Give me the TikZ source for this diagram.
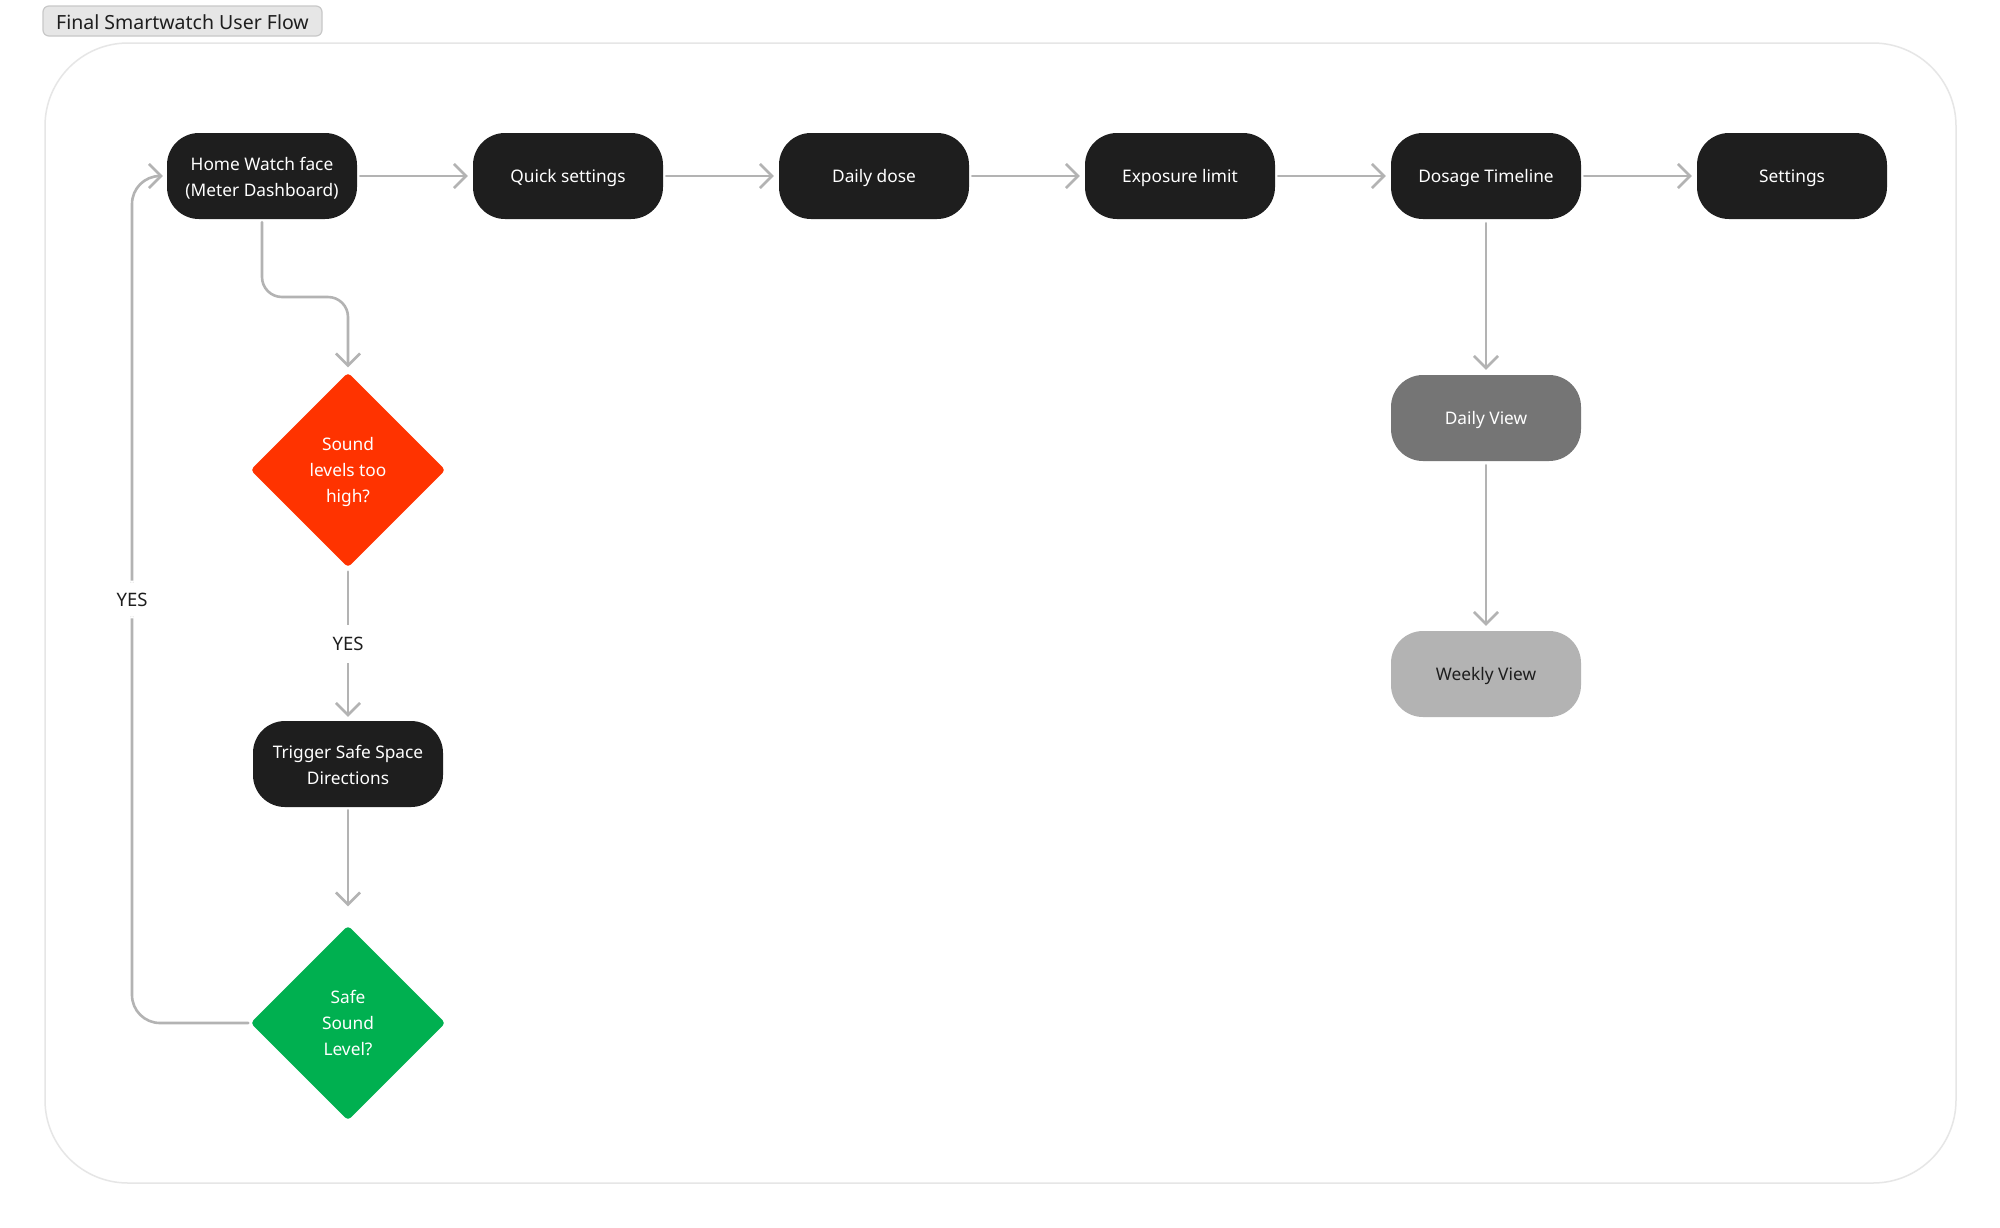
\documentclass[tikz,border=0pt]{standalone}
\usepackage{fontspec}
\setmainfont{Noto Sans}
\usetikzlibrary{arrows.meta,shapes.geometric}
\definecolor{boxdark}{HTML}{1E1E1E}
\definecolor{conn}{HTML}{B3B3B3}
\definecolor{alertred}{HTML}{FF3300}
\definecolor{okgreen}{HTML}{00B050}
\definecolor{midgray}{HTML}{757575}
\definecolor{lightgray}{HTML}{B3B3B3}
\definecolor{framegray}{HTML}{E6E6E6}
\definecolor{titlefill}{HTML}{E6E6E6}
\definecolor{titleline}{HTML}{C8C8C8}
\begin{document}
\begin{tikzpicture}[x=1pt,y=-1pt,
  pill/.style={rectangle, rounded corners=32pt, minimum width=190pt, minimum height=86pt,
    fill=boxdark, text=white, font=\fontsize{17.3}{26}\selectfont, align=center, inner sep=0pt,
    text height=14pt, text depth=0.5pt},
  twoline/.style={text height=40pt, text depth=0pt},
  dia/.style={diamond, minimum width=195pt, minimum height=195pt, inner sep=0pt,
    rounded corners=4pt, text=white, font=\fontsize{17.3}{26}\selectfont, align=center,
    text height=65pt, text depth=0pt},
  flow/.style={draw=conn, line width=2.6pt, line cap=round, line join=round,
    -{Straight Barb[length=12pt,width=24pt]}},
  lbl/.style={fill=white, text=boxdark, font=\fontsize{18.5}{22}\selectfont, inner xsep=4pt, inner ysep=12pt}
]
\fill[white] (0,0) rectangle (2000,1227);
\useasboundingbox (0,0) rectangle (2000,1227);

% title tab
\node[draw=titleline, fill=titlefill, line width=1.2pt, rounded corners=6pt,
  minimum width=279pt, minimum height=30pt, inner sep=0pt, text=boxdark,
  text height=16pt, text depth=0pt,
  font=\fontsize{19.5}{22}\selectfont] (title) at (182.5,21) {Final Smartwatch User Flow};

% frame
\draw[framegray, line width=1.5pt, rounded corners=83pt] (45,43) rectangle (1956,1183);

% top row
\node[pill, twoline] (home) at (262,176) {Home Watch face\\(Meter Dashboard)};
\node[pill] (quick) at (568,176) {Quick settings};
\node[pill] (dose) at (874,176) {Daily dose};
\node[pill] (expo) at (1180,176) {Exposure limit};
\node[pill] (timeline) at (1486,176) {Dosage Timeline};
\node[pill] (settings) at (1792,176) {Settings};

% right column
\node[pill, fill=midgray] (dailyview) at (1486,418) {Daily View};
\node[pill, fill=lightgray, text=boxdark] (weeklyview) at (1486,674) {Weekly View};

% left column
\node[dia, fill=alertred] (high) at (348,470) {Sound\\levels too\\high?};
\node[pill, twoline] (trigger) at (348,764) {Trigger Safe Space\\Directions};
\node[dia, fill=okgreen] (safe) at (348,1023) {Safe\\Sound\\Level?};

% connectors
\draw[flow, shorten <=3pt, shorten >=5pt] (home) -- (quick);
\draw[flow, shorten <=3pt, shorten >=5pt] (quick) -- (dose);
\draw[flow, shorten <=3pt, shorten >=5pt] (dose) -- (expo);
\draw[flow, shorten <=3pt, shorten >=5pt] (expo) -- (timeline);
\draw[flow, shorten <=3pt, shorten >=5pt] (timeline) -- (settings);
\draw[flow, shorten <=4pt, shorten >=5pt] (timeline) -- (dailyview);
\draw[flow, shorten <=4pt, shorten >=5pt] (dailyview) -- (weeklyview);

\draw[flow, rounded corners=20pt, shorten <=3pt, shorten >=5pt]
  (home.south) -- (262,297) -| (high.north);
\draw[flow, shorten <=4pt, shorten >=4pt] (high.south) -- node[lbl] (yes1) {YES} (trigger.north);
\draw[flow, shorten <=3pt, shorten >=19pt] (trigger.south) -- (safe.north);

\coordinate (loopbottom) at (132,1023);
\coordinate (looptop) at (132,176);
\draw[flow, rounded corners=28pt, shorten <=2pt, shorten >=4pt]
  (safe.west) -- (loopbottom) -- node[lbl, pos=0.5] (yes2) {YES} (looptop) -- (home.west);
\end{tikzpicture}
\end{document}
